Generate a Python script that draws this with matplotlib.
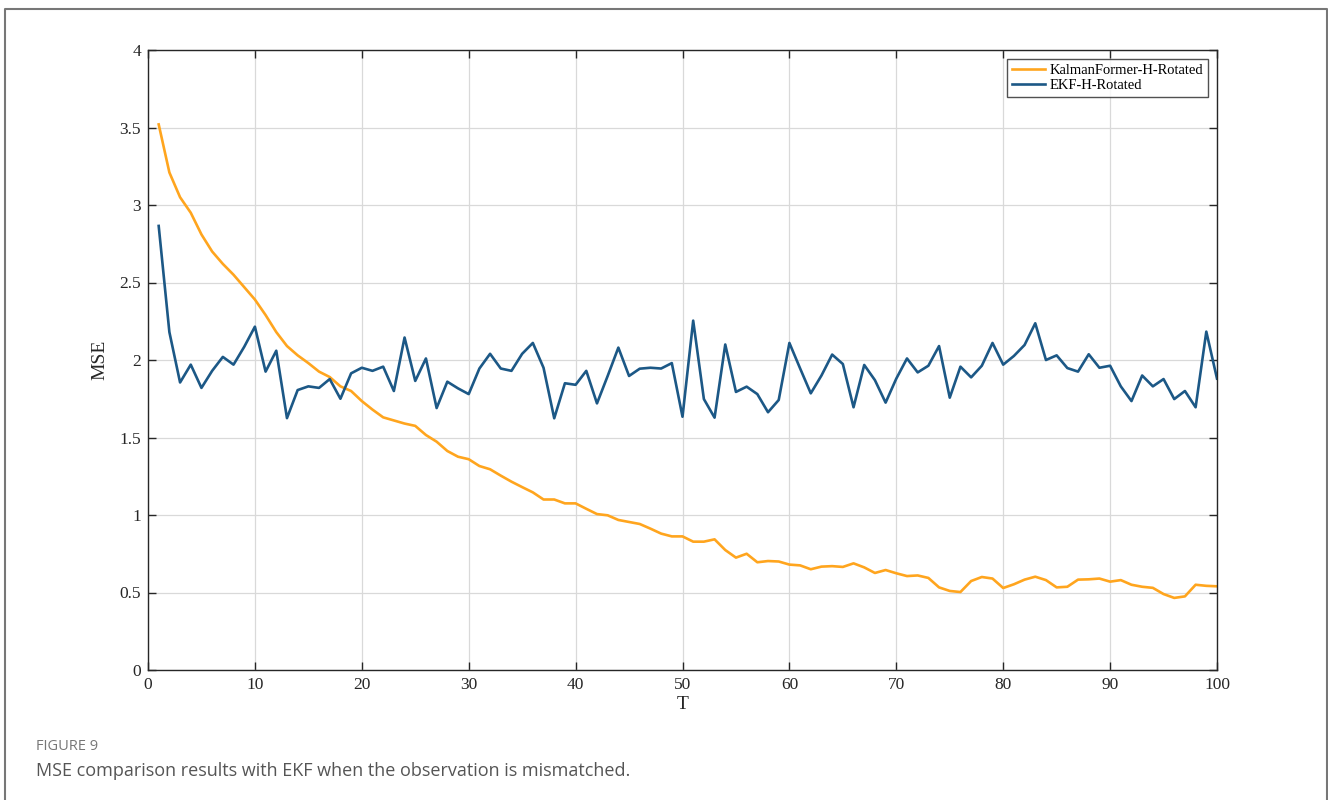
import numpy as np
import matplotlib
matplotlib.use("Agg")
import matplotlib.pyplot as plt
from matplotlib.lines import Line2D

T = list(range(1, 101))
kalmanformer = [3.52, 3.21, 3.05, 2.95, 2.81, 2.70, 2.62, 2.55, 2.47, 2.39,
                2.29, 2.18, 2.09, 2.03, 1.98, 1.925, 1.89, 1.83, 1.80, 1.735,
                1.68, 1.63, 1.61, 1.59, 1.575, 1.516, 1.473, 1.413, 1.376, 1.36,
                1.316, 1.295, 1.254, 1.215, 1.18, 1.146, 1.10, 1.10, 1.075, 1.075,
                1.04, 1.006, 0.998, 0.968, 0.955, 0.942, 0.912, 0.88, 0.862, 0.862,
                0.828, 0.828, 0.843, 0.774, 0.725, 0.75, 0.695, 0.703, 0.70, 0.68,
                0.675, 0.65, 0.667, 0.67, 0.665, 0.688, 0.662, 0.626, 0.645, 0.624,
                0.606, 0.61, 0.594, 0.533, 0.51, 0.503, 0.574, 0.60, 0.59, 0.529,
                0.553, 0.583, 0.602, 0.58, 0.533, 0.537, 0.583, 0.585, 0.59, 0.57,
                0.58, 0.55, 0.537, 0.53, 0.49, 0.465, 0.475, 0.55, 0.543, 0.54]
ekf = [2.865, 2.18, 1.855, 1.97, 1.82, 1.93, 2.02, 1.97, 2.085, 2.215,
       1.925, 2.06, 1.625, 1.806, 1.83, 1.82, 1.877, 1.75, 1.914, 1.95,
       1.93, 1.957, 1.80, 2.145, 1.865, 2.01, 1.69, 1.86, 1.817, 1.78,
       1.945, 2.04, 1.945, 1.93, 2.04, 2.11, 1.95, 1.624, 1.85, 1.84,
       1.93, 1.72, 1.897, 2.08, 1.897, 1.944, 1.95, 1.945, 1.98, 1.634,
       2.254, 1.748, 1.628, 2.10, 1.794, 1.828, 1.78, 1.663, 1.742, 2.11,
       1.946, 1.785, 1.90, 2.035, 1.974, 1.695, 1.968, 1.87, 1.725, 1.88,
       2.01, 1.92, 1.963, 2.09, 1.757, 1.957, 1.888, 1.963, 2.11, 1.97,
       2.026, 2.097, 2.237, 2.00, 2.03, 1.948, 1.925, 2.037, 1.95, 1.963,
       1.83, 1.735, 1.90, 1.83, 1.877, 1.748, 1.80, 1.695, 2.183, 1.88]
series_names = ["KalmanFormer-H-Rotated", "EKF-H-Rotated"]
x_ticks = [0, 10, 20, 30, 40, 50, 60, 70, 80, 90, 100]
y_ticks = [0, 0.5, 1, 1.5, 2, 2.5, 3, 3.5, 4]
y_tick_labels = ["0", "0.5", "1", "1.5", "2", "2.5", "3", "3.5", "4"]

serif = ["Liberation Serif", "DejaVu Serif"]
c_orange = "#FFA51E"
c_blue = "#1C5886"

fig = plt.figure(figsize=(13.28, 8), dpi=100)
fig.patch.set_facecolor("white")

# outer frame (left, top, right)
W, H = 1328, 800
frame = Line2D([4.5 / W, 4.5 / W, 1326.5 / W, 1326.5 / W],
               [0, 1 - 8.5 / H, 1 - 8.5 / H, 0],
               transform=fig.transFigure, color="#777777", lw=1.5)
fig.add_artist(frame)

ax = fig.add_axes([148 / W, 1 - 670 / H, (1217 - 148) / W, (670 - 50) / H])
ax.plot(T, kalmanformer, color=c_orange, lw=1.9, label=series_names[0])
ax.plot(T, ekf, color=c_blue, lw=1.9, label=series_names[1])

ax.set_xlim(0, 100)
ax.set_ylim(0, 4)
ax.set_xticks(x_ticks)
ax.set_xticklabels([str(v) for v in x_ticks], fontfamily=serif, fontsize=12.5)
ax.set_yticks(y_ticks)
ax.set_yticklabels(y_tick_labels, fontfamily=serif, fontsize=12.5)
ax.tick_params(direction="in", length=6, width=1, top=True, right=True,
               colors="#262626", labelcolor="#262626", pad=5)
ax.grid(True, color="#d9d9d9", lw=0.9)
ax.set_axisbelow(True)
for s in ax.spines.values():
    s.set_color("#262626")
    s.set_linewidth(1.0)

ax.set_xlabel("T", fontfamily=serif, fontsize=14, color="#262626", labelpad=2)
ax.set_ylabel("MSE", fontfamily=serif, fontsize=14, color="#262626", labelpad=8)

leg = ax.legend(loc="upper right", prop={"family": serif, "size": 10.5},
                frameon=True, fancybox=False, edgecolor="#262626",
                handlelength=2.3, handletextpad=0.3, borderpad=0.35,
                labelspacing=0.1, borderaxespad=0.6)
leg.get_frame().set_linewidth(1.0)

fig.text(36 / W, 1 - 747 / H, "FIGURE 9", fontfamily=["Open Sans", "DejaVu Sans"],
         fontsize=10.5, color="#777777", va="center", ha="left")
fig.text(36 / W, 1 - 771 / H, "MSE comparison results with EKF when the observation is mismatched.",
         fontfamily=["Open Sans", "DejaVu Sans"], fontsize=13, color="#555555",
         va="center", ha="left")

fig.savefig("out.png", dpi=100)
